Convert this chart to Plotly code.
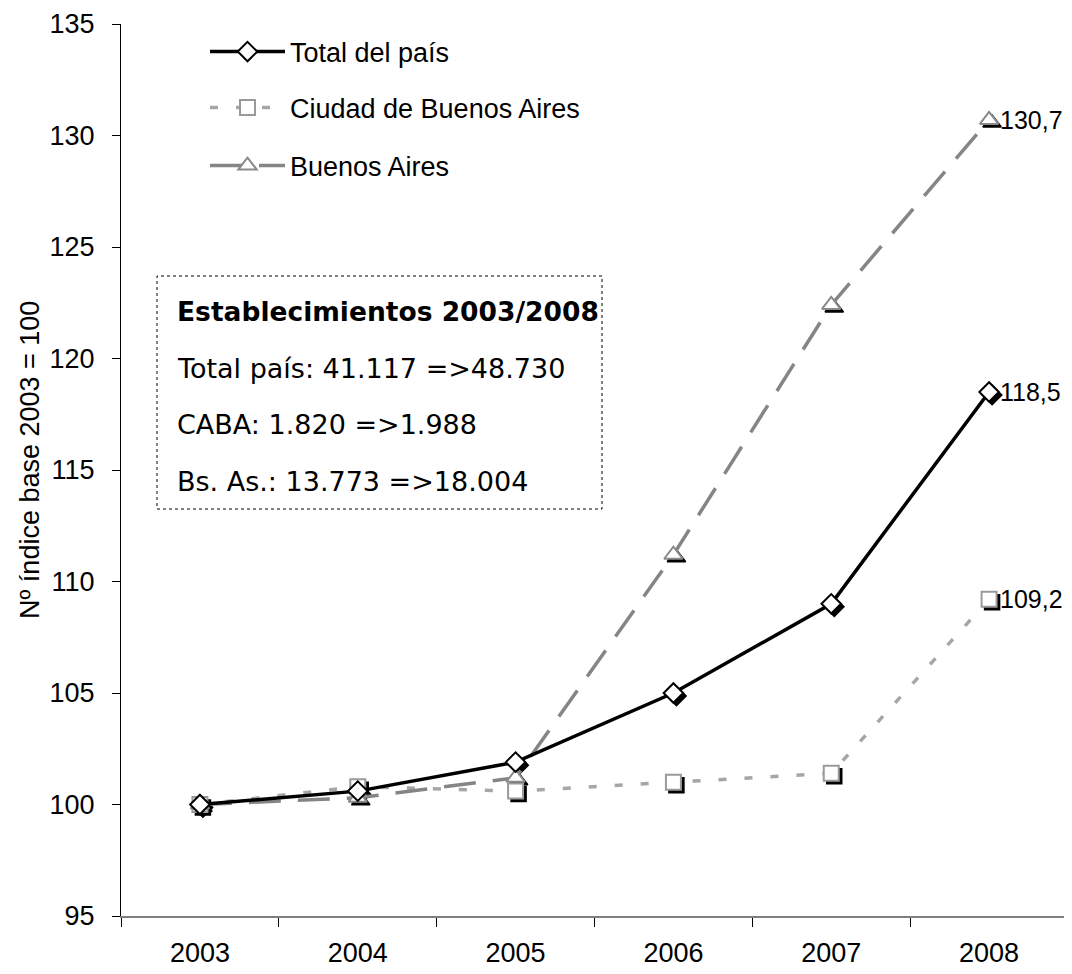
import plotly.graph_objects as go

years = ["2003", "2004", "2005", "2006", "2007", "2008"]
total_pais = [100.0, 100.6, 101.9, 105.0, 109.0, 118.5]
ciudad_bsas = [100.0, 100.8, 100.6, 101.0, 101.4, 109.2]
buenos_aires = [100.0, 100.3, 101.2, 111.2, 122.4, 130.7]

box_title = "Establecimientos 2003/2008"
box_lines = ["Total país: 41.117 =>48.730", "CABA: 1.820 =>1.988", "Bs. As.: 13.773 =>18.004"]
y_title = "Nº índice base 2003 = 100"

OFF = 8  # page body margin
W, H = 1072, 974
L, R, T, B = 121 - OFF, 12, 24 - OFF, 974 - (916 - OFF)
PW, PH = W - L - R, H - T - B
YR = [95, 135]
XR = [-0.5, 5.5]
# shadow offset (px) converted to data units
dx = 3 * (XR[1] - XR[0]) / PW
dy = 3 * (YR[1] - YR[0]) / PH

def px(xs):  # screen x -> paper
    return (xs - OFF - L) / PW

def py(ys):  # screen y -> paper
    return (H - B - (ys - OFF)) / PH

FONT = "Liberation Sans, Arial, sans-serif"
BOXFONT = "DejaVu Sans, Verdana, sans-serif"
FS = 27

series = [
    dict(name="Ciudad de Buenos Aires", y=ciudad_bsas, color="#a6a6a6", width=3.5, dash="8px,18px",
         symbol="square", msize=15, mline="#9a9a9a", legend="legend2"),
    dict(name="Buenos Aires", y=buenos_aires, color="#858585", width=3.5, dash="32px,17px",
         symbol="triangle-up", msize=16, mline="#8a8a8a", legend="legend3"),
    dict(name="Total del país", y=total_pais, color="#000000", width=3.5, dash="solid",
         symbol="diamond", msize=15, mline="#000000", legend="legend"),
]

fig = go.Figure()

# shadows (on the shifted base axes)
for s in series:
    fig.add_trace(go.Scatter(
        x=years, y=s["y"], mode="markers", xaxis="x", yaxis="y",
        marker=dict(symbol=s["symbol"], size=s["msize"], color="#000000",
                    line=dict(color="#000000", width=1.5)),
        showlegend=False, hoverinfo="skip"))

# main series
for s in series:
    fig.add_trace(go.Scatter(
        x=years, y=s["y"], mode="lines+markers", name=s["name"],
        xaxis="x2", yaxis="y2", legend=s["legend"],
        line=dict(color=s["color"], width=s["width"], dash=s["dash"]),
        marker=dict(symbol=s["symbol"], size=s["msize"], color="#ffffff",
                    line=dict(color=s["mline"], width=2))))

# end labels
last = len(years) - 1
for s in series:
    v = s["y"][-1]
    fig.add_annotation(x=last, y=v, xref="x2", yref="y2", text=f"{v:.1f}".replace(".", ","),
                       showarrow=False, xanchor="left", yanchor="middle", xshift=9,
                       font=dict(family=FONT, size=25, color="#000000"))

# text box
fig.add_shape(type="rect", xref="paper", yref="paper",
              x0=px(157), x1=px(602), y0=py(509), y1=py(276),
              line=dict(color="#000000", width=1, dash="dot"), fillcolor="rgba(0,0,0,0)")
fig.add_annotation(xref="paper", yref="paper", x=px(175), y=py(311), text="<b>" + box_title + "</b>",
                   showarrow=False, xanchor="left", yanchor="middle",
                   font=dict(family=BOXFONT, size=26.5, color="#000000"))
for i, t in enumerate(box_lines):
    fig.add_annotation(xref="paper", yref="paper", x=px(175), y=py(368 + 56.7 * i), text=t,
                       showarrow=False, xanchor="left", yanchor="middle",
                       font=dict(family=BOXFONT, size=27, color="#000000"))

# y axis title
fig.add_annotation(xref="paper", yref="paper", x=px(30), y=py(460), text=y_title, textangle=-90,
                   showarrow=False, xanchor="center", yanchor="middle",
                   font=dict(family=FONT, size=FS, color="#000000"))

legfont = dict(family=FONT, size=FS, color="#000000")
legcommon = dict(xanchor="left", yanchor="middle", bgcolor="rgba(0,0,0,0)", font=legfont,
                 itemwidth=75, borderwidth=0)

fig.update_layout(
    width=W, height=H,
    margin=dict(l=L, r=R, t=T, b=B, autoexpand=False),
    paper_bgcolor="#ffffff", plot_bgcolor="#ffffff",
    font=dict(family=FONT, size=FS, color="#000000"),
    showlegend=True,
    legend=dict(x=px(205), y=py(52), **legcommon),
    legend2=dict(x=px(205), y=py(108), **legcommon),
    legend3=dict(x=px(205), y=py(166), **legcommon),
    xaxis=dict(type="category", range=[XR[0] - dx, XR[1] - dx], visible=False,
               fixedrange=True, automargin=False),
    yaxis=dict(range=[YR[0] + dy, YR[1] + dy], visible=False, fixedrange=True, automargin=False),
    xaxis2=dict(type="category", overlaying="x", range=XR, side="bottom", automargin=False,
                showline=True, linecolor="#808080", linewidth=2,
                ticks="outside", tickson="boundaries", ticklen=9, tickcolor="#000000", tickwidth=1,
                showgrid=False, zeroline=False, ticklabelstandoff=12,
                tickfont=dict(family=FONT, size=FS, color="#000000")),
    yaxis2=dict(overlaying="y", range=YR, side="left", dtick=5, tick0=95, automargin=False,
                showline=True, linecolor="#000000", linewidth=1,
                ticks="outside", ticklen=8, tickcolor="#000000", tickwidth=1,
                showgrid=False, zeroline=False, ticklabelstandoff=12,
                tickfont=dict(family=FONT, size=FS, color="#000000")),
)

fig.write_html("out.html")
